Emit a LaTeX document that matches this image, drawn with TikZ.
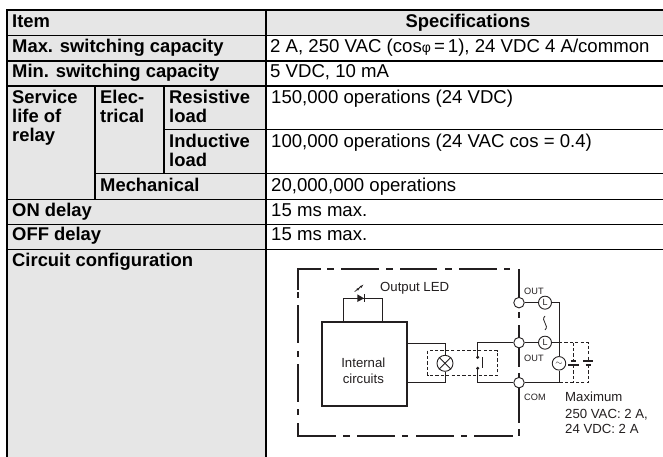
\documentclass[tikz,border=0pt]{standalone}
\usepackage{fontspec}
\setmainfont{Liberation Sans}
\definecolor{cellgray}{HTML}{E6E6E6}
\definecolor{inkc}{HTML}{231F20}
\tikzset{
  cellbox/.style={fill=cellgray,draw=black,line width=1.6pt},
  rule/.style={draw=black,line width=1.6pt},
  headtxt/.style={anchor=base west,inner sep=0pt,font=\fontsize{18.4}{20}\selectfont\bfseries},
  spectxt/.style={anchor=base west,inner sep=0pt,font=\fontsize{18.6}{20}\selectfont},
  difftxt/.style={inner sep=0pt,text=inkc,font=\fontsize{13.2}{15}\selectfont},
  smalltxt/.style={anchor=base west,inner sep=0pt,text=inkc,font=\fontsize{9.2}{11}\selectfont},
  frameline/.style={draw=inkc,line width=1.8pt},
  wire/.style={draw=inkc,line width=0.9pt},
  dashwire/.style={draw=inkc,line width=0.9pt,dash pattern=on 3.2pt off 2.2pt},
  terminal/.style={circle,draw=inkc,fill=white,line width=0.9pt,minimum size=10.5pt,inner sep=0pt},
  loadc/.style={circle,draw=inkc,fill=white,line width=0.9pt,minimum size=13pt,inner sep=0pt,font=\fontsize{9}{9}\selectfont,text=inkc},
}
\begin{document}
\begin{tikzpicture}[x=1pt,y=-1pt]
\useasboundingbox (0,0) rectangle (663,457);
% ---------- table cells
\path[cellbox] (7,10) rectangle (670,35.5);
\path[cellbox] (7,35.5) rectangle (266,61);
\path[cellbox] (7,61) rectangle (266,86);
\path[cellbox] (7,86) rectangle (95,199.5);
\path[cellbox] (95,86) rectangle (164,173.5);
\path[cellbox] (164,86) rectangle (266,129.5);
\path[cellbox] (164,129.5) rectangle (266,173.5);
\path[cellbox] (95,173.5) rectangle (266,199.5);
\path[cellbox] (7,199.5) rectangle (266,224.5);
\path[cellbox] (7,224.5) rectangle (266,249.5);
\path[fill=cellgray] (7,249.5) rectangle (266,460);
\path[rule] (7,249.5) -- (7,460);
\path[rule] (266,10) -- (266,460);
\path[rule] (266,35.5) -- (670,35.5);
\path[rule] (266,61) -- (670,61);
\path[rule] (266,86) -- (670,86);
\path[rule] (266,129.5) -- (670,129.5);
\path[rule] (266,173.5) -- (670,173.5);
\path[rule] (266,199.5) -- (670,199.5);
\path[rule] (266,224.5) -- (670,224.5);
\path[rule] (266,249.5) -- (670,249.5);
% ---------- table text
\node[headtxt] (item) at (12,28) {Item};
\node[headtxt,anchor=base] (spec) at (468,28) {Specifications};
\node[headtxt] (maxc) at (12,52.7) {Max. switching capacity};
\node[headtxt] (minc) at (12,77.7) {Min. switching capacity};
\node[headtxt] (sv1) at (12,104) {Service};
\node[headtxt] (sv2) at (12,123) {life of};
\node[headtxt] (sv3) at (12,141.7) {relay};
\node[headtxt] (el1) at (100,104) {Elec-};
\node[headtxt] (el2) at (100,123) {trical};
\node[headtxt] (res1) at (169,104) {Resistive};
\node[headtxt] (res2) at (169,123) {load};
\node[headtxt] (ind1) at (169,147.7) {Inductive};
\node[headtxt] (ind2) at (169,166.7) {load};
\node[headtxt] (mech) at (100,191.7) {Mechanical};
\node[headtxt] (ond) at (12,216.7) {ON delay};
\node[headtxt] (offd) at (12,240.7) {OFF delay};
\node[headtxt] (circ) at (12,266) {Circuit configuration};
\node[spectxt] (s1) at (270,52.7) {2 A, 250 VAC (cos{\fontsize{14}{14}\selectfont φ}\,=\,1), 24 VDC 4 A/common};
\node[spectxt] (s2) at (270,77.7) {5 VDC, 10 mA};
\node[spectxt] (s3) at (271,104) {150,000 operations (24 VDC)};
\node[spectxt] (s4) at (271,147.7) {100,000 operations (24 VAC cos = 0.4)};
\node[spectxt] (s5) at (271,191.7) {20,000,000 operations};
\node[spectxt] (s6) at (271,216.7) {15 ms max.};
\node[spectxt] (s7) at (271,240.7) {15 ms max.};
% ---------- circuit (units: 1/3 px from (260,250))
\begin{scope}[shift={(260,250)},x=0.33333pt,y=-0.33333pt]
  % outer dash-dot frame
  \draw[frameline] (115,120) -- (115,58) -- (183,58);
  \foreach \a/\b in {201/222,243/357,378/399,420/531,555/576,597/711,732/750}{
     \draw[frameline] (\a,58) -- (\b,58);}
  \foreach \a/\b in {126/144,165/279,303/321,342/456,477/495}{
     \draw[frameline] (115,\a) -- (115,\b);}
  \draw[frameline] (115,519) -- (115,558) -- (228,558);
  \foreach \a/\b in {249/270,291/405,426/444,468/582,603/621,642/759}{
     \draw[frameline] (\a,558) -- (\b,558);}
  \foreach \a/\b in {58/158,186/204,225/265,278/350,370/385,398/518,537/558}{
     \draw[frameline,line width=2pt] (777,\a) -- (777,\b);}
  % internal circuits
  \node[draw=inkc,line width=2pt,fill=white,minimum width=85.3pt,minimum height=84.3pt,inner sep=0pt,
        anchor=north west] (box) at (182,212) {};
  \node[difftxt,anchor=base] (ic1) at (310,352) {Internal};
  \node[difftxt,anchor=base] (ic2) at (310,400) {circuits};
  % LED
  \coordinate (ledL) at (250,212);
  \coordinate (ledR) at (368,212);
  \coordinate (ledA) at (250,145);
  \coordinate (ledB) at (368,145);
  \draw[wire] (ledL) -- (ledA) -- (ledB) -- (ledR);
  \fill[inkc] (292,133) -- (292,156) -- (312,145) -- cycle;
  \draw[inkc,line width=1.2pt] (314,132) -- (314,157);
  \draw[inkc,line width=0.7pt] (284,125) -- (302,110);
  \fill[inkc] (310,104) -- (299,109) -- (304,114) -- cycle;
  \fill[inkc] (300,112) -- (289,117) -- (294,122) -- cycle;
  \node[difftxt,anchor=base west] (led) at (360,124) {Output LED};
  % terminals and loads
  \node[terminal] (c1) at (777,158) {};
  \node[terminal] (c2) at (777,278) {};
  \node[terminal] (c3) at (777,398) {};
  \node[loadc] (l1) at (855,158) {L};
  \node[loadc] (l2) at (855,278) {L};
  \node[circle,draw=inkc,fill=white,line width=0.9pt,minimum size=13.5pt,inner sep=0pt,font=\fontsize{9}{9}\selectfont,text=inkc] (ac) at (897,340) {$\sim$};
  \coordinate (tr) at (897,158);
  \coordinate (j2) at (897,278);
  \coordinate (j3) at (897,398);
  \draw[wire] (c1) -- (l1) -- (tr) -- (ac) -- (j3) -- (c3);
  \draw[wire] (c2) -- (l2) -- (j2);
  \draw[inkc,line width=0.8pt] (855,198) .. controls (840,212) and (870,226) .. (855,240);
  \node[smalltxt] (out1) at (792,134) {OUT};
  \node[smalltxt] (out2) at (792,335) {OUT};
  \node[smalltxt] (com) at (792,450) {COM};
  % relay
  \coordinate (rb) at (653,322);
  \coordinate (rc) at (653,355);
  \coordinate (rt) at (653,278);
  \coordinate (rd) at (653,398);
  \fill[inkc] (rb) circle (5);
  \fill[inkc] (rc) circle (5);
  \draw[wire] (c2) -- (rt) -- (rb);
  \draw[wire] (rc) -- (rd) -- (c3);
  \draw[wire] (668,322) -- (668,355);
  % lamp
  \node[circle,draw=inkc,line width=0.9pt,minimum size=16pt,inner sep=0pt] (lamp) at (555,340) {};
  \draw[wire] (lamp.north west) -- (lamp.south east);
  \draw[wire] (lamp.north east) -- (lamp.south west);
  \draw[wire] (438,280) -- (555,280) -- (lamp);
  \draw[wire] (438,398) -- (555,398) -- (lamp);
  \draw[dashwire] (503,302) rectangle (712,376);
  % dashed battery options
  \draw[dashwire] (j2) -- (985,278) -- (985,333);
  \draw[dashwire] (985,345) -- (985,398) -- (j3);
  \draw[dashwire] (940,278) -- (940,333);
  \draw[dashwire] (940,345) -- (940,398);
  \draw[inkc,line width=1.8pt] (932,333) -- (948,333);
  \draw[inkc,line width=1.1pt] (925,345) -- (956,345);
  \draw[inkc,line width=1.1pt] (969,333) -- (1000,333);
  \draw[inkc,line width=1.8pt] (977,345) -- (993,345);
  % note
  \node[difftxt,anchor=base west] (m1) at (915,455) {Maximum};
  \node[difftxt,anchor=base west] (m2) at (915,505) {250 VAC: 2 A,};
  \node[difftxt,anchor=base west] (m3) at (915,550) {24 VDC: 2 A};
\end{scope}
\end{tikzpicture}
\end{document}
